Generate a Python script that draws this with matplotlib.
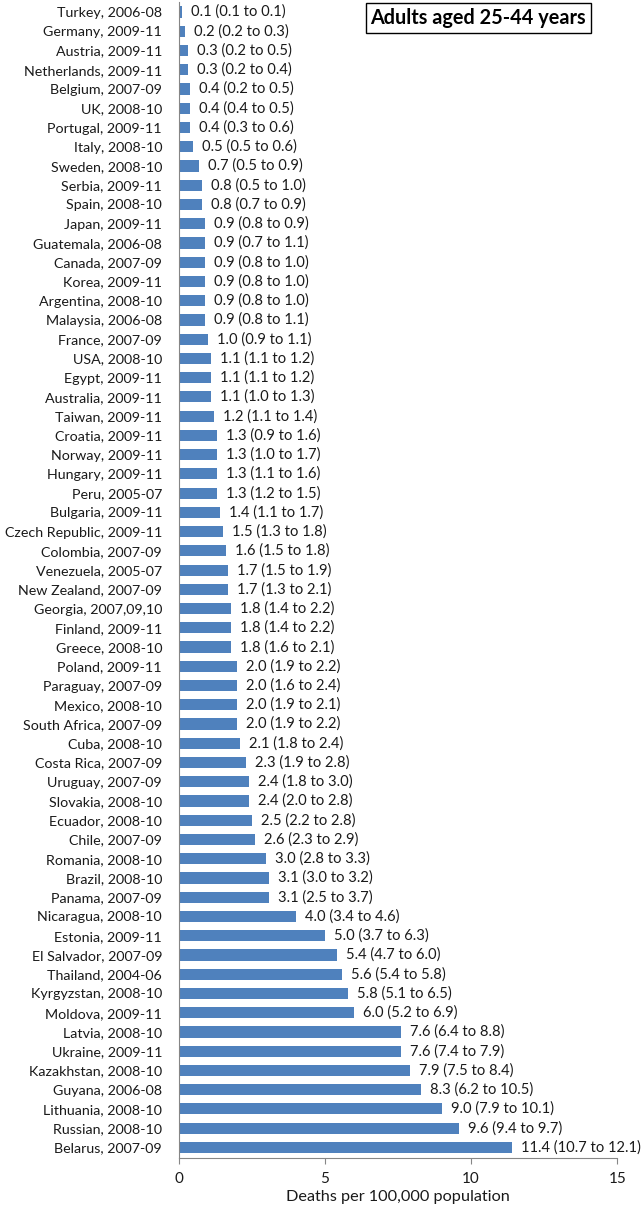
import matplotlib.pyplot as plt

plt.rcParams["font.family"] = ["Lato", "DejaVu Sans"]

countries = [
    "Turkey, 2006-08", "Germany, 2009-11", "Austria, 2009-11", "Netherlands, 2009-11",
    "Belgium, 2007-09", "UK, 2008-10", "Portugal, 2009-11", "Italy, 2008-10",
    "Sweden, 2008-10", "Serbia, 2009-11", "Spain, 2008-10", "Japan, 2009-11",
    "Guatemala, 2006-08", "Canada, 2007-09", "Korea, 2009-11", "Argentina, 2008-10",
    "Malaysia, 2006-08", "France, 2007-09", "USA, 2008-10", "Egypt, 2009-11",
    "Australia, 2009-11", "Taiwan, 2009-11", "Croatia, 2009-11", "Norway, 2009-11",
    "Hungary, 2009-11", "Peru, 2005-07", "Bulgaria, 2009-11", "Czech Republic, 2009-11",
    "Colombia, 2007-09", "Venezuela, 2005-07", "New Zealand, 2007-09", "Georgia, 2007,09,10",
    "Finland, 2009-11", "Greece, 2008-10", "Poland, 2009-11", "Paraguay, 2007-09",
    "Mexico, 2008-10", "South Africa, 2007-09", "Cuba, 2008-10", "Costa Rica, 2007-09",
    "Uruguay, 2007-09", "Slovakia, 2008-10", "Ecuador, 2008-10", "Chile, 2007-09",
    "Romania, 2008-10", "Brazil, 2008-10", "Panama, 2007-09", "Nicaragua, 2008-10",
    "Estonia, 2009-11", "El Salvador, 2007-09", "Thailand, 2004-06", "Kyrgyzstan, 2008-10",
    "Moldova, 2009-11", "Latvia, 2008-10", "Ukraine, 2009-11", "Kazakhstan, 2008-10",
    "Guyana, 2006-08", "Lithuania, 2008-10", "Russian, 2008-10", "Belarus, 2007-09",
]

rates = [
    0.1, 0.2, 0.3, 0.3, 0.4, 0.4, 0.4, 0.5, 0.7, 0.8,
    0.8, 0.9, 0.9, 0.9, 0.9, 0.9, 0.9, 1.0, 1.1, 1.1,
    1.1, 1.2, 1.3, 1.3, 1.3, 1.3, 1.4, 1.5, 1.6, 1.7,
    1.7, 1.8, 1.8, 1.8, 2.0, 2.0, 2.0, 2.0, 2.1, 2.3,
    2.4, 2.4, 2.5, 2.6, 3.0, 3.1, 3.1, 4.0, 5.0, 5.4,
    5.6, 5.8, 6.0, 7.6, 7.6, 7.9, 8.3, 9.0, 9.6, 11.4,
]

ci_low = [
    0.1, 0.2, 0.2, 0.2, 0.2, 0.4, 0.3, 0.5, 0.5, 0.5,
    0.7, 0.8, 0.7, 0.8, 0.8, 0.8, 0.8, 0.9, 1.1, 1.1,
    1.0, 1.1, 0.9, 1.0, 1.1, 1.2, 1.1, 1.3, 1.5, 1.5,
    1.3, 1.4, 1.4, 1.6, 1.9, 1.6, 1.9, 1.9, 1.8, 1.9,
    1.8, 2.0, 2.2, 2.3, 2.8, 3.0, 2.5, 3.4, 3.7, 4.7,
    5.4, 5.1, 5.2, 6.4, 7.4, 7.5, 6.2, 7.9, 9.4, 10.7,
]

ci_high = [
    0.1, 0.3, 0.5, 0.4, 0.5, 0.5, 0.6, 0.6, 0.9, 1.0,
    0.9, 0.9, 1.1, 1.0, 1.0, 1.0, 1.1, 1.1, 1.2, 1.2,
    1.3, 1.4, 1.6, 1.7, 1.6, 1.5, 1.7, 1.8, 1.8, 1.9,
    2.1, 2.2, 2.2, 2.1, 2.2, 2.4, 2.1, 2.2, 2.4, 2.8,
    3.0, 2.8, 2.8, 2.9, 3.3, 3.2, 3.7, 4.6, 6.3, 6.0,
    5.8, 6.5, 6.9, 8.8, 7.9, 8.4, 10.5, 10.1, 9.7, 12.1,
]

x_ticks = [0, 5, 10, 15]

BAR_COLOR = "#4f81bd"
TEXT_COLOR = "#1a1a1a"
AXIS_COLOR = "#868686"

fig = plt.figure(figsize=(6.43, 12.10), dpi=100)
ax = fig.add_axes([0.278, 0.043, 0.682, 0.955])

positions = list(range(len(countries)))
ax.barh(positions, rates, height=0.58, color=BAR_COLOR)

# 数值标签：点估计 + 置信区间
for pos, rate, low, high in zip(positions, rates, ci_low, ci_high):
    ax.annotate(
        f"{rate:.1f} ({low:.1f} to {high:.1f})",
        xy=(rate, pos),
        xytext=(6.5, 0),
        textcoords="offset points",
        ha="left",
        va="center",
        fontsize=10.6,
        color=TEXT_COLOR,
    )

ax.set_yticks(positions)
ax.set_yticklabels(countries, fontsize=10.3, color=TEXT_COLOR)
ax.set_ylim(len(countries) - 0.45, -0.5)
ax.tick_params(axis="y", length=0, pad=12)

ax.set_xlim(0, 15)
ax.set_xticks(x_ticks)
ax.tick_params(axis="x", length=4, direction="out", labelsize=11, colors=AXIS_COLOR,
               labelcolor=TEXT_COLOR, pad=6)
ax.set_xlabel("Deaths per 100,000 population", fontsize=11.7, color=TEXT_COLOR, labelpad=3)

for side in ("top", "right"):
    ax.spines[side].set_visible(False)
ax.spines["left"].set_color(AXIS_COLOR)
ax.spines["bottom"].set_color(AXIS_COLOR)

fig.text(
    0.744, 0.9855, "Adults aged 25-44 years",
    ha="center", va="center", fontsize=14.3, fontweight="bold", color="black",
    bbox={"boxstyle": "square,pad=0.25", "facecolor": "white", "edgecolor": "black", "linewidth": 1},
)

fig.savefig("out.png", dpi=100)
